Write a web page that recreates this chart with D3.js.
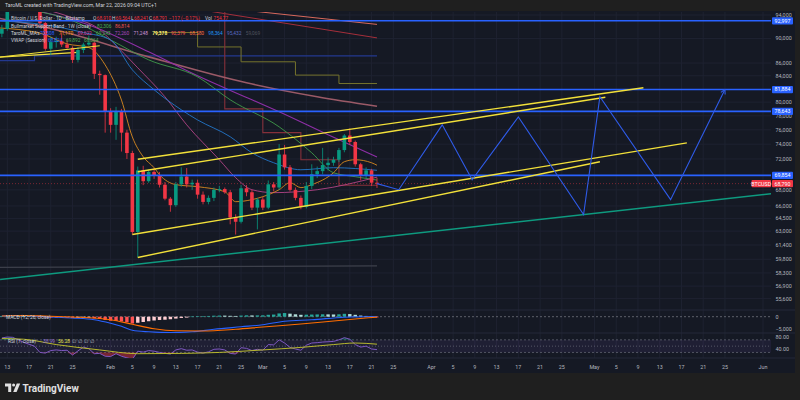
<!DOCTYPE html>
<html><head><meta charset="utf-8">
<script src="https://cdn.jsdelivr.net/npm/d3@7"></script>
<style>body{margin:0;background:#1f1f1f;}svg{display:block;font-family:Roboto,'Liberation Sans',sans-serif;}</style>
</head><body><svg id="c" width="800" height="400"></svg>
<script>
// ---------------- DATA ----------------
const candleFirst = "2026-01-12", candleLast = "2026-03-22";
const opens = [
 90800,91600,95500,97000,95600,95500,95200,94800,92600,88300,89400,89600,89000,88450,86500,88100,89000,89300,84300,84100,
 78600,76700,78600,75600,72800,62900,70500,69100,70300,69900,68650,66900,66100,68700,69700,68700,68900,67400,66500,67000,68000,68100,67700,64600,64100,68200,67700,65800,
 66800,65800,68700,68300,72600,70900,68000,67000,65900,68500,70000,70400,71200,71500,71900,73200,75200,74300,71300,69800,70500,68910];
const highs = [
 92300,96000,97800,97400,96000,95800,95500,95000,92800,90300,90300,91000,89800,88700,88600,89300,90500,89500,84800,84200,
 79100,79300,79000,76000,73100,71000,71100,70600,70800,70300,69000,67100,69000,70900,70800,69300,69300,67800,67300,68300,68500,68300,68000,65000,68600,68600,68000,67000,
 67100,69200,69000,74000,73900,71200,68300,67300,69000,71300,71000,73500,72200,72300,73500,75400,76200,74500,71500,70900,70700,69564];
const lows = [
 90200,91300,95000,95200,94800,95000,94600,92300,88000,87300,88500,88600,88300,86000,86100,87600,88800,83500,81100,75600,
 75600,74600,73000,72000,62600,60000,68600,68900,69400,68300,66700,65300,65900,68400,68300,68000,66900,66200,66200,66600,67700,67500,63800,62600,63900,67200,65500,63200,
 65500,65600,67800,68000,70600,67800,66700,65600,65700,68100,69500,70000,70500,71100,71600,72900,73900,71000,69200,69500,68500,68241];
const closes = [
 91600,95500,97000,95600,95500,95200,94800,92600,88300,89400,89600,89000,88450,86500,88100,89000,89300,84300,84100,78600,
 76700,78600,75600,72800,62900,70500,69100,70300,69900,68650,66900,66100,68700,69700,68700,68900,67400,66500,67000,68000,68100,67700,64600,64100,68200,67700,65800,66800,
 65800,68700,68300,72600,70900,68000,67000,65900,68500,70000,70400,71200,71500,71900,73200,75200,74300,71300,69800,70500,68910,68791];

const macdHist = [
 300,350,420,400,330,250,150,-50,-250,-350,-380,-420,-450,-550,-520,-450,-400,-650,-900,-1300,
 -1600,-1700,-1900,-2200,-2700,-2400,-2100,-1800,-1500,-1300,-1200,-1000,-750,-500,-350,80,150,200,300,400,450,430,350,300,450,550,500,520,
 550,750,850,1300,1450,1200,950,750,800,850,900,950,920,880,950,1150,1050,750,450,300,120,-20];
const macdLine = [["2026-01-12",300],["2026-01-16",500],["2026-01-20",0],["2026-01-25",-500],["2026-01-29",-1200],["2026-02-01",-2600],["2026-02-03",-3800],["2026-02-05",-5400],["2026-02-08",-6000],["2026-02-12",-6300],["2026-02-16",-6000],["2026-02-20",-5000],["2026-02-25",-4000],["2026-03-01",-3200],["2026-03-05",-1800],["2026-03-10",-1200],["2026-03-16",-200],["2026-03-22",100]];
const macdSignal = [["2026-01-12",300],["2026-01-16",450],["2026-01-20",250],["2026-01-25",-100],["2026-02-01",-1200],["2026-02-05",-3000],["2026-02-09",-4800],["2026-02-13",-5600],["2026-02-18",-5700],["2026-02-24",-5000],["2026-03-01",-4100],["2026-03-08",-2900],["2026-03-15",-1500],["2026-03-22",-150]];

const rsiValues = [
 76,79,78,70,62,56,50,30,28,36,38,36,37,22,35,47,42,26,27,18,
 17,26,18,13,8,34,31,36,34,30,27,25,38,42,37,38,31,28,32,40,41,38,27,25,45,43,36,40,
 37,55,54,70,60,46,41,37,53,60,61,63,64,65,70,77,72,55,47,50,41,38.99];
const rsiMA = [["2026-01-12",74],["2026-01-16",72],["2026-01-22",55],["2026-01-30",38],["2026-02-06",26],["2026-02-14",27],["2026-02-21",30],["2026-03-01",38],["2026-03-08",46],["2026-03-14",55],["2026-03-18",60],["2026-03-22",56.28]];

// moving averages / indicator lines [date, price]
const maOrange = [["2026-01-11",91800],["2026-01-19",90900],["2026-01-24",89100],["2026-01-28",88500],["2026-01-31",85700],["2026-02-03",80300],["2026-02-05",75000],["2026-02-07",72300],["2026-02-09",70850],["2026-02-10",69940],["2026-02-13",68660],["2026-02-17",68400],["2026-02-22",67770],["2026-02-24",66530],["2026-02-27",66780],["2026-03-01",67150],["2026-03-04",68020],["2026-03-06",68910],["2026-03-08",68280],["2026-03-10",68660],["2026-03-14",70190],["2026-03-16",71640],["2026-03-18",71900],["2026-03-21",71500],["2026-03-22",71170]];
const maBlue = [["2026-01-11",93000],["2026-01-20",92300],["2026-01-27",91000],["2026-02-01",89760],["2026-02-05",84920],["2026-02-09",81850],["2026-02-14",78870],["2026-02-17",77400],["2026-02-23",75030],["2026-02-27",72830],["2026-03-03",71500],["2026-03-08",70580],["2026-03-14",70850],["2026-03-22",70508]];
const maPink = [["2026-01-11",96500],["2026-01-25",93500],["2026-01-30",91500],["2026-02-01",89760],["2026-02-06",85240],["2026-02-11",80790],["2026-02-15",76700],["2026-02-21",71900],["2026-02-24",69550],["2026-02-27",68020],["2026-03-03",67650],["2026-03-11",68020],["2026-03-22",69622]];
const maGreen = [["2026-01-11",95500],["2026-01-25",93000],["2026-02-01",89760],["2026-02-08",86510],["2026-02-17",83830],["2026-02-23",80340],["2026-03-04",76420],["2026-03-10",72830],["2026-03-14",70190],["2026-03-18",69680],["2026-03-22",69243]];
const maPurple = [["2026-01-11",96000],["2026-01-29",91940],["2026-02-08",87800],["2026-02-17",83990],["2026-02-27",80340],["2026-03-04",78570],["2026-03-13",75300],["2026-03-22",72260]];
const maRose = [["2026-01-11",93500],["2026-01-22",91430],["2026-02-08",86990],["2026-02-26",82910],["2026-03-11",80790],["2026-03-22",79378]];
const maYellow = [["2026-01-11",86900],["2026-01-26",87700]];
const bullBand = [["2026-01-11",86400],["2026-01-18",87150],["2026-03-22",87150]];
const maGray = [["2026-01-11",58900],["2026-03-22",59069]];
const weeklyRed = [["2026-02-15",97000],["2026-02-22",79000],["2026-03-01",75600],["2026-03-08",71900],["2026-03-15",68580],["2026-03-22",68580]];
const weeklyOlive = [["2026-02-09",91000],["2026-02-17",88600],["2026-02-25",86200],["2026-03-07",84100],["2026-03-15",82800],["2026-03-22",82800]];
const redDiag = [["2026-02-17",95000],["2026-03-22",90100]];
const salmonDiag = [["2026-02-24",95000],["2026-03-22",92379]];

// drawings
const hLevels = [92997, 81884, 78643, 69854];
const channelA = [["2026-02-06",71960],["2026-05-10",82150]];
const channelB = [["2026-02-06",70320],["2026-05-03",80720]];
const channelC = [["2026-02-05",62600],["2026-05-18",74190]];
const channelD = [["2026-02-06",60000],["2026-05-02",71640]];
const yellowTop = [["2026-01-11",86900],["2026-01-30",88800]];
const tealTrend = [["2026-01-11T16:00",57610],["2026-06-02T12:00",67520]];
const projection = [["2026-03-22",68791],["2026-03-26",68020],["2026-04-03",76700],["2026-04-08T12:00",69290],["2026-04-17",77840],["2026-04-29",64960],["2026-05-02",80790],["2026-05-15",66780],["2026-05-25",81884]];
const lastPrice = 68790;

const priceTicks = [94000,90000,86000,84000,80000,78000,76000,74000,72000,68000,66000,64500,63000,61400,59800,58300,56900,55600];
const xTickDates = ["2026-01-13","2026-01-17","2026-01-21","2026-01-25","2026-02-01","2026-02-05","2026-02-09","2026-02-13","2026-02-17","2026-02-21","2026-02-25","2026-03-01","2026-03-05","2026-03-09","2026-03-13","2026-03-17","2026-03-21","2026-03-25","2026-04-01","2026-04-05","2026-04-09","2026-04-13","2026-04-17","2026-04-21","2026-04-25","2026-05-01","2026-05-05","2026-05-09","2026-05-13","2026-05-17","2026-05-21","2026-05-25","2026-06-01"];
const xTickLabels = ["13","17","21","25","Feb","5","9","13","17","21","25","Mar","5","9","13","17","21","25","Apr","5","9","13","17","21","25","May","5","9","13","17","21","25","Jun"];

// ---------------- RENDER ----------------
const D = s => new Date(s.length > 10 ? s : s + "T00:00:00");
const svg = d3.select("#c");
const plotR = 771;
const x = d3.scaleTime().domain([D("2026-01-13"), D("2026-06-01")]).range([7.3, 763]);
const y = d3.scaleLog().domain([94000, 55600]).range([15, 298.6]);
const yM = d3.scaleLinear().domain([0, -5000]).range([316.7, 329.3]);
const yR = d3.scaleLinear().domain([80, 40]).range([336.7, 349.3]);
const fmt = d3.format(",");

svg.append("rect").attr("width",800).attr("height",400).attr("fill","#1f1f1f");
svg.append("rect").attr("x",0).attr("y",11).attr("width",795).attr("height",362).attr("fill","#151924");

const defs = svg.append("defs");
defs.append("clipPath").attr("id","cm").append("rect").attr("x",0).attr("y",12).attr("width",plotR).attr("height",298);
defs.append("clipPath").attr("id","cmacd").append("rect").attr("x",0).attr("y",310).attr("width",plotR).attr("height",23);
defs.append("clipPath").attr("id","crsi").append("rect").attr("x",0).attr("y",333).attr("width",plotR).attr("height",25);

// grid
const grid = svg.append("g").attr("stroke","#1e2231").attr("stroke-width",1);
xTickDates.forEach(d => grid.append("line").attr("x1",x(D(d))).attr("x2",x(D(d))).attr("y1",12).attr("y2",358));
priceTicks.forEach(p => grid.append("line").attr("x1",0).attr("x2",plotR).attr("y1",y(p)).attr("y2",y(p)));
[310,333,358].forEach(v => svg.append("line").attr("x1",0).attr("x2",795).attr("y1",v).attr("y2",v).attr("stroke","#252938"));

const main = svg.append("g").attr("clip-path","url(#cm)");
const lineGen = d3.line().x(d=>x(D(d[0]))).y(d=>y(d[1]));
function drawLine(g, data, color, w, curve){
  return g.append("path").datum(data).attr("fill","none").attr("stroke",color).attr("stroke-width",w)
   .attr("d", lineGen.curve(curve||d3.curveLinear)(data));
}
// indicator lines
drawLine(main, maGray, "#3d404b", 1.2);
drawLine(main, bullBand, "#23388f", 1.2, d3.curveStepAfter);
drawLine(main, maYellow, "#f5e23c", 1.2);
drawLine(main, redDiag, "#a52f3b", 1);
drawLine(main, salmonDiag, "#d8695c", 1);
drawLine(main, weeklyOlive, "#75732c", 1, d3.curveStepAfter);
drawLine(main, weeklyRed, "#86303a", 1.1, d3.curveStepAfter);
drawLine(main, maRose, "#9b5a67", 1.6, d3.curveMonotoneX);
drawLine(main, maPurple, "#8e2fa6", 1.1, d3.curveMonotoneX);
drawLine(main, maGreen, "#3f9a4a", 0.9, d3.curveMonotoneX);
drawLine(main, maPink, "#b24487", 0.9, d3.curveMonotoneX);
drawLine(main, maBlue, "#2276c9", 0.9, d3.curveMonotoneX);
drawLine(main, maOrange, "#d98a1f", 0.9, d3.curveMonotoneX);

main.append("line").attr("x1",0).attr("x2",plotR).attr("y1",y(lastPrice)).attr("y2",y(lastPrice))
  .attr("stroke","#f23645").attr("stroke-opacity",0.45).attr("stroke-dasharray","1,2");

// candles
const days = d3.timeDay.range(D(candleFirst), d3.timeDay.offset(D(candleLast),1));
const candles = days.map((d,i)=>({d, o:opens[i], h:highs[i], l:lows[i], c:closes[i]}));
const cg = main.append("g");
candles.forEach(k=>{
  const col = k.c >= k.o ? "#089981" : "#f23645";
  const cx = x(k.d);
  cg.append("line").attr("x1",cx).attr("x2",cx).attr("y1",y(k.h)).attr("y2",y(k.l)).attr("stroke",col).attr("stroke-width",0.8);
  const y0 = Math.min(y(k.o), y(k.c)), hh = Math.max(1, Math.abs(y(k.o)-y(k.c)));
  cg.append("rect").attr("x",cx-1.8).attr("y",y0).attr("width",3.6).attr("height",hh).attr("fill",col);
});

// drawings
hLevels.forEach(v => main.append("line").attr("x1",0).attr("x2",plotR).attr("y1",y(v)).attr("y2",y(v)).attr("stroke","#2962ff").attr("stroke-width",1.6));
[channelA, channelB, channelC, channelD].forEach(c => drawLine(main, c, "#f2e03a", 1.4));
drawLine(main, yellowTop, "#f2e03a", 1.2);
drawLine(main, tealTrend, "#0e9a7f", 1.5);
drawLine(main, projection, "#2f5be8", 1.1);
(function(){
  const n = projection.length, a = projection[n-2], b = projection[n-1];
  const x1 = x(D(a[0])), y1 = y(a[1]), x2 = x(D(b[0])), y2 = y(b[1]);
  const ang = Math.atan2(y2-y1, x2-x1), L = 5;
  [-0.5, 0.5].forEach(da => main.append("line").attr("x1",x2).attr("y1",y2)
     .attr("x2", x2 - L*Math.cos(ang+da)).attr("y2", y2 - L*Math.sin(ang+da))
     .attr("stroke","#2f5be8").attr("stroke-width",1.1));
})();

// ---- MACD pane ----
const mg = svg.append("g").attr("clip-path","url(#cmacd)");
mg.append("line").attr("x1",0).attr("x2",plotR).attr("y1",yM(0)).attr("y2",yM(0)).attr("stroke","#5d606b").attr("stroke-dasharray","2,2");
candles.forEach((k,i)=>{
  const v = macdHist[i], pv = i>0 ? macdHist[i-1] : 0;
  let col;
  if (v >= 0) col = v >= pv ? "#26a69a" : "#b2dfdb"; else col = v < pv ? "#ff5252" : "#ffcdd2";
  const yy = Math.min(yM(0), yM(v)), hh = Math.max(0.6, Math.abs(yM(v)-yM(0)));
  mg.append("rect").attr("x",x(k.d)-1.7).attr("y",yy).attr("width",3.4).attr("height",hh).attr("fill",col);
});
const lineM = d3.line().x(d=>x(D(d[0]))).y(d=>yM(d[1])).curve(d3.curveMonotoneX);
mg.append("path").attr("d",lineM(macdLine)).attr("fill","none").attr("stroke","#2962ff").attr("stroke-width",1.1);
mg.append("path").attr("d",lineM(macdSignal)).attr("fill","none").attr("stroke","#ff6d00").attr("stroke-width",1.1);

// ---- RSI pane ----
const rg = svg.append("g").attr("clip-path","url(#crsi)");
rg.append("rect").attr("x",0).attr("width",plotR).attr("y",yR(70)).attr("height",yR(30)-yR(70)).attr("fill","#7e57c2").attr("fill-opacity",0.1);
[70,50,30].forEach(v => rg.append("line").attr("x1",0).attr("x2",plotR).attr("y1",yR(v)).attr("y2",yR(v))
   .attr("stroke","#787b86").attr("stroke-opacity",0.6).attr("stroke-dasharray", v===50 ? "1,2" : "2,2"));
const rsiPts = candles.map((k,i)=>[k.d, rsiValues[i]]);
rg.append("path").attr("d", d3.area().x(d=>x(d[0])).y0(yR(30)).y1(d=>yR(Math.min(d[1],30)))(rsiPts)).attr("fill","#f23645").attr("fill-opacity",0.45);
rg.append("path").attr("d", d3.area().x(d=>x(d[0])).y0(yR(70)).y1(d=>yR(Math.max(d[1],70)))(rsiPts)).attr("fill","#089981").attr("fill-opacity",0.45);
rg.append("path").attr("d", d3.line().x(d=>x(d[0])).y(d=>yR(d[1]))(rsiPts)).attr("fill","none").attr("stroke","#7e57c2").attr("stroke-width",1);
rg.append("path").attr("d", d3.line().x(d=>x(D(d[0]))).y(d=>yR(d[1])).curve(d3.curveMonotoneX)(rsiMA)).attr("fill","none").attr("stroke","#b8b82e").attr("stroke-width",1);

// ---- axes ----
const axT = svg.append("g").attr("font-size","5.4px").attr("fill","#b2b5be");
xTickDates.forEach((d,i)=> axT.append("text").attr("x",x(D(d))).attr("y",369).attr("text-anchor","middle").text(xTickLabels[i]));
priceTicks.forEach(p => axT.append("text").attr("x",775.5).attr("y",y(p)+1.9).text(fmt(p)));
axT.append("text").attr("x",775.5).attr("y",yM(0)+1.9).text("0");
axT.append("text").attr("x",775.5).attr("y",yM(-5000)+1.9).text("\u22125,000");
axT.append("text").attr("x",775.5).attr("y",yR(80)+1.9).text("80.00");
axT.append("text").attr("x",775.5).attr("y",yR(40)+1.9).text("40.00");

function badge(xx, v, col, txt, w){
  svg.append("rect").attr("x",xx).attr("y",y(v)-3.6).attr("width",w).attr("height",7.2).attr("rx",1).attr("fill",col);
  svg.append("text").attr("x",xx+w/2).attr("y",y(v)+1.9).attr("text-anchor","middle").attr("font-size","5.3px").attr("fill","#fff").text(txt);
}
hLevels.forEach(v => badge(772, v, "#2962ff", fmt(v), 21));
badge(772, lastPrice, "#f23645", fmt(lastPrice), 21);
badge(751.5, lastPrice, "#f23645", "BTCUSD", 19.5);

// ---- legends ----
const lg = svg.append("g").attr("font-size","4.8px");
function seg(xx, yy, txt, col, bold, fs){ const t = lg.append("text").attr("x",xx).attr("y",yy).attr("fill",col).attr("font-weight",bold?"bold":null).text(txt); if(fs) t.attr("font-size",fs); }
seg(5, 7, "TaroML created with TradingView.com, Mar 22, 2026 09:04 UTC+1", "#d1d4dc", false, "5.2px");
const L1=20.2, L2=27.5, L3=34.8, L4=42.1, red="#f23645", lab="#d1d4dc";
seg(11, L1, "Bitcoin / U.S. Dollar \u00b7 1D \u00b7 Bitstamp", lab);
seg(93, L1, "O", lab); seg(96.8, L1, "68,910", red);
seg(112, L1, "H", lab); seg(115.8, L1, "69,564", red);
seg(131, L1, "L", lab); seg(134, L1, "68,241", red);
seg(149, L1, "C", lab); seg(152.8, L1, "68,791", red);
seg(169, L1, "\u2212117 (\u22120.17%)", red);
seg(205, L1, "Vol", lab); seg(213.5, L1, "754.77", red);
seg(11, L2, "Bullmarket Support Band \u00b7 1W (close)", lab);
seg(97, L2, "82,306", "#4caf50"); seg(115, L2, "86,814", "#ef5350");
seg(11, L3, "TaroML_MA's", lab);
const maLegend = [["70,508","#2962ff"],["71,170","#ff9800"],["69,622","#e040a0"],["69,243","#4caf50"],["72,260","#ab47bc"],["71,248","#ce93d8"],["79,378","#fff176"],["92,379","#ff5252"],["68,580","#ff7043"],["98,364","#2196f3"],["95,432","#5c6bc0"],["59,069","#50535e"]];
maLegend.forEach((m,i)=> seg(40 + i*18.7, L3, m[0], m[1], m[0]==="79,378"));
seg(11, L4, "VWAP (Session)", lab);
seg(48, L4, "68,824", "#2962ff"); seg(66, L4, "69,892", "#4caf50"); seg(84, L4, "68,064", "#4caf50");
seg(6, 318.5, "MACD (12, 26, close)", lab);
seg(8, 342.5, "RSI (7, close)", lab);
seg(43, 342.5, "38.99", "#9575cd"); seg(58, 342.5, "56.28", "#e6e64a");
[72,78,84,90].forEach(xx=>seg(xx,342.5,"\u2205","#b2b5be"));

// ---- logo ----
const logo = svg.append("g").attr("fill","#e0e0e0");
logo.append("path").attr("d","M5,383.5h6.2v8.5h-3v-5.6h-3.2z");
logo.append("circle").attr("cx",13.6).attr("cy",385).attr("r",1.5);
logo.append("path").attr("d","M16.8,383.5h3.4l-3.6,8.5h-3.4z");
logo.append("text").attr("x",22.5).attr("y",391.5).attr("font-size","10px").attr("font-weight","bold").text("TradingView");
</script>
</body></html>
